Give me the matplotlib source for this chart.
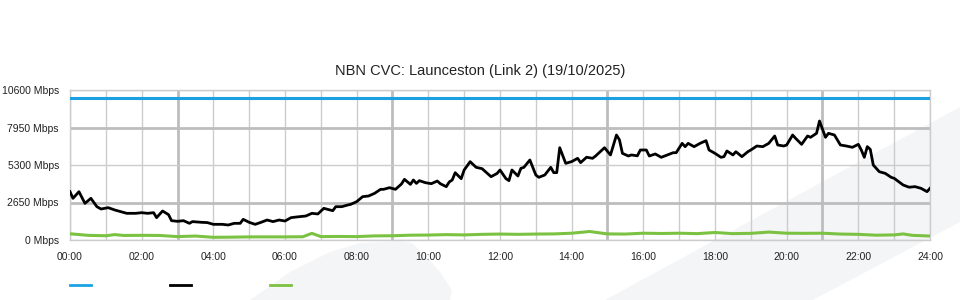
import matplotlib.pyplot as plt
from matplotlib.patches import Polygon
from matplotlib.lines import Line2D

# Data
title = "NBN CVC: Launceston (Link 2) (19/10/2025)"
y_ticks = [0, 2650, 5300, 7950, 10600]
y_labels = ["0 Mbps", "2650 Mbps", "5300 Mbps", "7950 Mbps", "10600 Mbps"]
x_ticks = [0, 2, 4, 6, 8, 10, 12, 14, 16, 18, 20, 22, 24]
x_labels = ["00:00", "02:00", "04:00", "06:00", "08:00", "10:00", "12:00",
            "14:00", "16:00", "18:00", "20:00", "22:00", "24:00"]

# capacity line (Mbps)
capacity_min = [0, 1440]
capacity_mbps = [10000, 10000]

# traffic (black), minutes since midnight
traffic_min = [0, 5, 15, 25, 35, 45, 52, 64, 75, 85, 95, 110, 120, 130, 140,
               145, 155, 165, 170, 180, 190, 200, 205, 220, 230, 240, 255, 265,
               275, 285, 290, 300, 310, 320, 330, 340, 350, 360, 370, 380, 395,
               405, 415, 425, 440, 445, 455, 465, 470, 480, 490, 500, 510, 520,
               525, 535, 545, 555, 560, 570, 575, 580, 585, 595, 605, 615, 620,
               630, 635, 640, 645, 655, 660, 670, 680, 690, 705, 715, 720, 730,
               735, 740, 750, 755, 760, 770, 780, 785, 795, 805, 810, 815, 820,
               830, 840, 850, 855, 865, 875, 880, 895, 905, 915, 920, 925, 935,
               940, 950, 955, 965, 970, 980, 990, 1000, 1010, 1015, 1025, 1030,
               1035, 1045, 1055, 1065, 1070, 1080, 1090, 1095, 1100, 1110, 1115,
               1125, 1135, 1140, 1150, 1160, 1170, 1180, 1185, 1195, 1200, 1210,
               1215, 1225, 1235, 1240, 1250, 1255, 1265, 1270, 1280, 1290, 1300,
               1310, 1320, 1325, 1330, 1335, 1340, 1345, 1355, 1365, 1375, 1380,
               1395, 1405, 1415, 1425, 1435, 1440]
traffic_mbps = [3413, 2945, 3413, 2590, 2945, 2355, 2190, 2285, 2120, 2000, 1885,
                1885, 1930, 1885, 1930, 1580, 2050, 1790, 1366, 1320, 1366, 1178,
                1300, 1250, 1230, 1107, 1107, 1060, 1178, 1178, 1460, 1250, 1107,
                1250, 1413, 1300, 1413, 1342, 1578, 1630, 1696, 1885, 1840, 2238,
                2070, 2355, 2355, 2473, 2520, 2709, 3062, 3110, 3298, 3580, 3580,
                3698, 3580, 3957, 4287, 3933, 4240, 4000, 4193, 4052, 3980, 4169,
                3980, 3768, 4100, 4240, 4757, 4334, 4947, 5536, 5135, 5040, 4475,
                4700, 4947, 4334, 4193, 4947, 4523, 5064, 5135, 5654, 4594, 4429,
                4594, 5135, 4760, 4760, 6523, 5418, 5540, 5772, 5470, 5850, 5772,
                5936, 6523, 6010, 7420, 7080, 6124, 5936, 6010, 5950, 6360, 6360,
                5936, 6080, 5843, 6010, 6170, 6170, 6830, 6595, 6830, 6595, 6830,
                7020, 6360, 6124, 5843, 5890, 6290, 6010, 6240, 5890, 6240, 6360,
                6643, 6595, 6830, 7350, 6713, 6643, 6713, 7420, 7185, 6760, 7350,
                7256, 7538, 8409, 7256, 7538, 7420, 6713, 6643, 6550, 6760, 6360,
                5843, 6595, 6405, 5300, 4827, 4710, 4429, 4360, 3887, 3730, 3770,
                3651, 3416, 3651]

# third series (green), every 30 min with a few extra points
green_min = [0, 30, 60, 75, 90, 120, 150, 180, 210, 240, 270, 300, 330, 360,
             390, 405, 420, 450, 480, 510, 540, 570, 600, 630, 660, 690, 720,
             750, 780, 810, 840, 870, 900, 930, 960, 990, 1020, 1050, 1080,
             1110, 1140, 1170, 1200, 1230, 1260, 1290, 1320, 1350, 1380, 1395,
             1410, 1440]
green_mbps = [440, 330, 300, 380, 320, 330, 320, 240, 280, 190, 200, 220, 220,
              220, 230, 470, 240, 250, 240, 290, 300, 340, 350, 380, 360, 400,
              420, 400, 420, 430, 480, 600, 430, 420, 480, 460, 480, 450, 530,
              450, 470, 560, 480, 470, 480, 420, 400, 340, 360, 430, 330, 280]

plt.rcParams['font.family'] = ['Liberation Sans', 'DejaVu Sans']

fig = plt.figure(figsize=(9.6, 3.0), dpi=100)
fig.patch.set_facecolor('white')

# faint background swooshes (pixel coords -> figure fraction)
shape_color = '#f4f5f7'
arch = [(250, 300), (290, 272), (330, 252), (360, 243), (400, 241), (412, 243),
        (425, 255), (440, 272), (452, 290), (450, 300)]
band = [(605, 300), (960, 107), (960, 222), (813, 300)]
for pts in (arch, band):
    poly = Polygon([(x / 960, 1 - y / 300) for x, y in pts], closed=True,
                   transform=fig.transFigure, facecolor=shape_color,
                   edgecolor='none', zorder=-10)
    fig.patches.append(poly)

ax = fig.add_axes([70 / 960, 0.2, 860 / 960, 0.5])
ax.set_facecolor('none')

# grid
for h in range(25):
    if h % 6 == 3:
        ax.axvline(h, color='#bdbdbd', lw=2, zorder=1)
    else:
        ax.axvline(h, color='#cccccc', lw=1, zorder=1)
for v in y_ticks:
    if v in (2650, 7950):
        ax.axhline(v, color='#bdbdbd', lw=2, zorder=1)
    else:
        ax.axhline(v, color='#cccccc', lw=1, zorder=1)

ax.plot([m / 60 for m in capacity_min], capacity_mbps, color='#1ba1e2', lw=2.2, zorder=3)
ax.plot([m / 60 for m in green_min], green_mbps, color='#7cc242', lw=2.2, zorder=3)
ax.plot([m / 60 for m in traffic_min], traffic_mbps, color='black', lw=2.0, zorder=4)

ax.set_xlim(0, 24)
ax.set_ylim(0, 10600)
ax.set_xticks(x_ticks)
ax.set_xticklabels(x_labels, fontsize=7.5, color='#222222')
ax.set_yticks(y_ticks)
ax.set_yticklabels(y_labels, fontsize=7.5, color='#222222')
ax.tick_params(axis='both', length=0, pad=8)
ax.tick_params(axis='x', pad=9)
for s in ax.spines.values():
    s.set_color('#cccccc')
    s.set_linewidth(1)

fig.text(0.5, 1 - 71 / 300, title, ha='center', va='center', fontsize=10.5, color='#222222')

# legend swatches (no labels)
for x0, c in [(70, '#1ba1e2'), (170, 'black'), (270, '#7cc242')]:
    fig.add_artist(Line2D([x0 / 960, (x0 + 21) / 960], [1 - 285 / 300] * 2,
                          color=c, lw=2, transform=fig.transFigure))

fig.savefig('out.png', dpi=100)
